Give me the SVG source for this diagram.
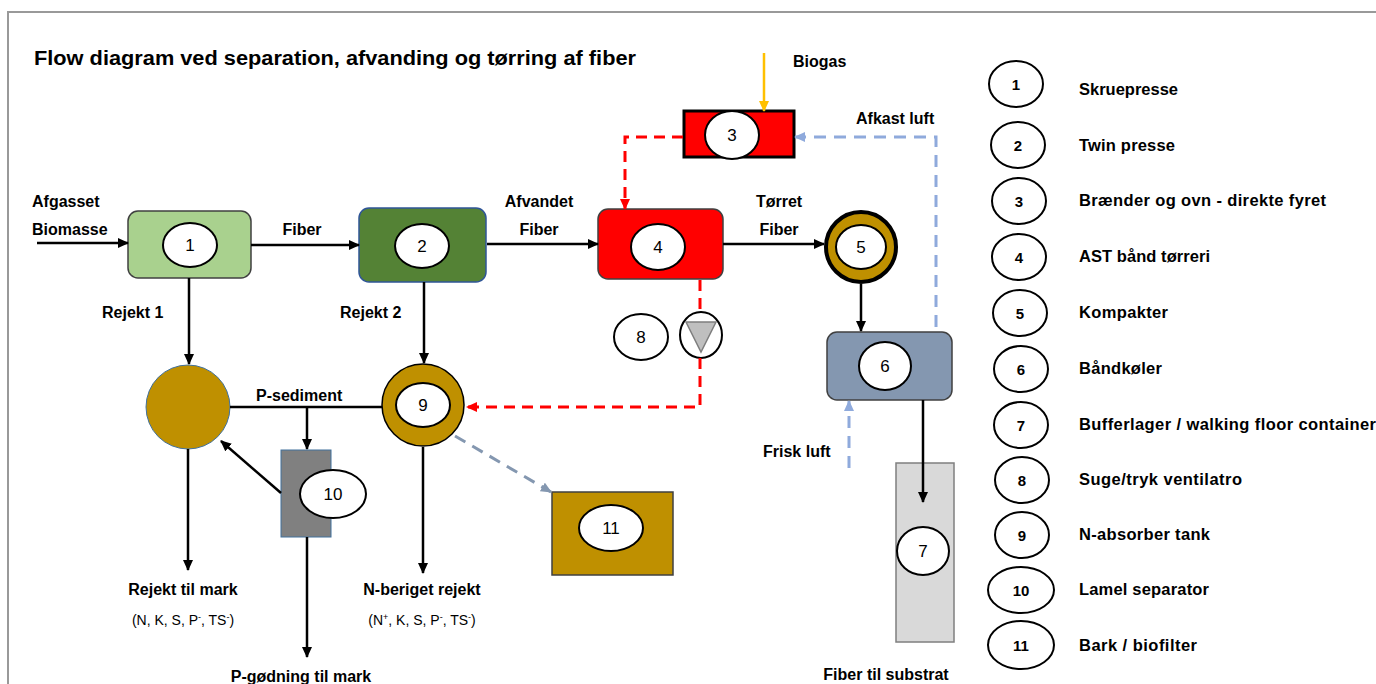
<svg xmlns="http://www.w3.org/2000/svg" width="1376" height="684" viewBox="0 0 1376 684">
<style>
text{font-family:"Liberation Sans",Arial,sans-serif;font-weight:bold;fill:#000}
.lbl{font-size:16px}
.sm{font-size:14px;font-weight:normal}
.num{font-size:17px;font-weight:normal;text-anchor:middle}
.lnum{font-size:15px;font-weight:bold;text-anchor:middle}
.leg{font-size:16.5px}
.mid{text-anchor:middle}
.tag{fill:#fff;stroke:#000;stroke-width:2}
.blk{fill:none;stroke:#000;stroke-width:2.5}
.red{fill:none;stroke:#FF0000;stroke-width:3;stroke-dasharray:11 7}
.blu{fill:none;stroke:#8FAADC;stroke-width:3;stroke-dasharray:12 8}
.gbl{fill:none;stroke:#8497B0;stroke-width:3;stroke-dasharray:12 8}
</style>
<defs>
<marker id="ab" markerUnits="userSpaceOnUse" markerWidth="11" markerHeight="10" refX="10" refY="5" orient="auto"><path d="M0,0 L11,5 L0,10 z" fill="#000"/></marker>
<marker id="ar" markerUnits="userSpaceOnUse" markerWidth="11" markerHeight="10" refX="10" refY="5" orient="auto"><path d="M0,0 L11,5 L0,10 z" fill="#FF0000"/></marker>
<marker id="au" markerUnits="userSpaceOnUse" markerWidth="11" markerHeight="10" refX="10" refY="5" orient="auto"><path d="M0,0 L11,5 L0,10 z" fill="#8FAADC"/></marker>
<marker id="ag" markerUnits="userSpaceOnUse" markerWidth="11" markerHeight="10" refX="10" refY="5" orient="auto"><path d="M0,0 L11,5 L0,10 z" fill="#8497B0"/></marker>
<marker id="ao" markerUnits="userSpaceOnUse" markerWidth="11" markerHeight="10" refX="10" refY="5" orient="auto"><path d="M0,0 L11,5 L0,10 z" fill="#FFC000"/></marker>
</defs>
<rect x="0" y="0" width="1376" height="684" fill="#fff"/>
<rect x="8" y="12" width="1420" height="720" fill="none" stroke="#999" stroke-width="2"/>
<text x="34" y="65" font-size="20" textLength="602" lengthAdjust="spacingAndGlyphs">Flow diagram ved separation, afvanding og tørring af fiber</text>

<g id="node1"><rect x="128" y="211" width="123" height="67" rx="10" fill="#A9D18E" stroke="#404040" stroke-width="1.5"/><ellipse class="tag" cx="190" cy="245" rx="27" ry="22"/><text class="num" x="190" y="251">1</text></g>
<g id="node2"><rect x="359" y="208" width="127" height="74" rx="10" fill="#548235" stroke="#2F5597" stroke-width="1.5"/><ellipse class="tag" cx="422" cy="246" rx="27" ry="22"/><text class="num" x="422" y="252">2</text></g>
<g id="node3"><rect x="684" y="111" width="110" height="46" fill="#FF0000" stroke="#000" stroke-width="3"/><ellipse class="tag" cx="732" cy="135" rx="27" ry="24"/><text class="num" x="732" y="141">3</text></g>
<g id="node4"><rect x="598" y="209" width="125" height="70" rx="10" fill="#FF0000" stroke="#404040" stroke-width="1.5"/><ellipse class="tag" cx="658" cy="247" rx="27" ry="23"/><text class="num" x="658" y="253">4</text></g>
<g id="node5"><circle cx="861" cy="247" r="35" fill="#BF9000" stroke="#000" stroke-width="4"/><ellipse class="tag" cx="861" cy="247" rx="25" ry="22"/><text class="num" x="861" y="253">5</text></g>
<g id="node6"><rect x="827" y="332" width="125" height="68" rx="10" fill="#8497B0" stroke="#404040" stroke-width="1.5"/><ellipse class="tag" cx="885" cy="366" rx="26" ry="24"/><text class="num" x="885" y="372">6</text></g>
<g id="node7"><rect x="896" y="463" width="58" height="179" fill="#D9D9D9" stroke="#7F7F7F" stroke-width="1.5"/><ellipse class="tag" cx="923" cy="551" rx="26" ry="24"/><text class="num" x="923" y="557">7</text></g>
<g id="node8"><ellipse class="tag" cx="641" cy="337" rx="27" ry="23"/><text class="num" x="641" y="343">8</text><ellipse class="tag" cx="701" cy="335" rx="21" ry="23"/><polygon points="686,322 716,322 701,352" fill="#BFBFBF" stroke="#7F7F7F" stroke-width="1.5"/></g>
<g id="node-mix"><circle cx="188" cy="407" r="42" fill="#BF9000" stroke="#41719C" stroke-width="1"/></g>
<g id="node9"><circle cx="423" cy="405" r="41" fill="#BF9000" stroke="#000" stroke-width="1.5"/><ellipse class="tag" cx="423" cy="405" rx="27" ry="22" stroke-width="2.5"/><text class="num" x="423" y="411">9</text></g>
<g id="node10"><rect x="281" y="450" width="50" height="87" fill="#808080" stroke="#41719C" stroke-width="1"/><ellipse class="tag" cx="333" cy="494" rx="33" ry="24"/><text class="num" x="333" y="500">10</text></g>
<g id="node11"><rect x="552" y="492" width="121" height="83" fill="#BF9000" stroke="#404040" stroke-width="1.5"/><ellipse class="tag" cx="611" cy="528" rx="32" ry="23"/><text class="num" x="611" y="534">11</text></g>

<g id="connectors">
<line class="blk" x1="37" y1="243" x2="128" y2="243" marker-end="url(#ab)"/>
<line class="blk" x1="251" y1="245" x2="359" y2="245" marker-end="url(#ab)"/>
<line class="blk" x1="487" y1="244" x2="598" y2="244" marker-end="url(#ab)"/>
<line class="blk" x1="723" y1="244" x2="824" y2="244" marker-end="url(#ab)"/>
<line class="blk" x1="861" y1="284" x2="861" y2="331" marker-end="url(#ab)"/>
<line class="blk" x1="923" y1="400" x2="923" y2="502" marker-end="url(#ab)"/>
<line class="blk" x1="189" y1="278" x2="189" y2="364" marker-end="url(#ab)"/>
<line class="blk" x1="424" y1="282" x2="424" y2="363" marker-end="url(#ab)"/>
<line class="blk" x1="230" y1="407" x2="382" y2="407"/>
<line class="blk" x1="307" y1="407" x2="307" y2="449" marker-end="url(#ab)"/>
<line class="blk" x1="281" y1="493" x2="221" y2="441" marker-end="url(#ab)"/>
<line class="blk" x1="188" y1="449" x2="188" y2="570" marker-end="url(#ab)"/>
<line class="blk" x1="307" y1="537" x2="307" y2="657" marker-end="url(#ab)"/>
<line class="blk" x1="423" y1="447" x2="423" y2="573" marker-end="url(#ab)"/>
<line x1="764" y1="53" x2="764" y2="111" stroke="#FFC000" stroke-width="2.5" marker-end="url(#ao)"/>
<polyline class="red" points="683,137 625,137 625,209" marker-end="url(#ar)"/>
<line class="red" x1="700" y1="280" x2="700" y2="312"/>
<polyline class="red" points="700,358 700,407 467,407" marker-end="url(#ar)"/>
<polyline class="blu" points="936,327 936,137 795,137" marker-end="url(#au)"/>
<line class="blu" x1="849" y1="468" x2="849" y2="401" marker-end="url(#au)"/>
<line class="gbl" x1="455" y1="436" x2="551" y2="492" marker-end="url(#ag)"/>
</g>

<g id="labels">
<text class="lbl" x="32" y="207">Afgasset</text>
<text class="lbl" x="32" y="235">Biomasse</text>
<text class="lbl mid" x="302" y="235">Fiber</text>
<text class="lbl mid" x="539" y="207">Afvandet</text>
<text class="lbl mid" x="539" y="235">Fiber</text>
<text class="lbl mid" x="779" y="207">Tørret</text>
<text class="lbl mid" x="779" y="235">Fiber</text>
<text class="lbl" x="793" y="67">Biogas</text>
<text class="lbl" x="856" y="124">Afkast luft</text>
<text class="lbl" x="102" y="318">Rejekt 1</text>
<text class="lbl" x="340" y="318">Rejekt 2</text>
<text class="lbl" x="256" y="401">P-sediment</text>
<text class="lbl" x="763" y="457">Frisk luft</text>
<text class="lbl mid" x="183" y="595">Rejekt til mark</text>
<text class="sm mid" x="183" y="625">(N, K, S, P<tspan dy="-5" font-size="9">-</tspan><tspan dy="5">, TS</tspan><tspan dy="-5" font-size="9">-</tspan><tspan dy="5">)</tspan></text>
<text class="lbl mid" x="422" y="595">N-beriget rejekt</text>
<text class="sm mid" x="422" y="625">(N<tspan dy="-5" font-size="9">+</tspan><tspan dy="5">, K, S, P</tspan><tspan dy="-5" font-size="9">-</tspan><tspan dy="5">, TS</tspan><tspan dy="-5" font-size="9">-</tspan><tspan dy="5">)</tspan></text>
<text class="lbl mid" x="301" y="682">P-gødning til mark</text>
<text class="lbl mid" x="886" y="680">Fiber til substrat</text>
</g>

<g id="legend">
<g id="leg1"><ellipse class="tag" cx="1016" cy="84" rx="27" ry="23"/><text class="lnum" x="1016" y="90">1</text><text class="leg" x="1079" y="95" textLength="99">Skruepresse</text></g>
<g id="leg2"><ellipse class="tag" cx="1018" cy="145" rx="27" ry="23"/><text class="lnum" x="1018" y="151">2</text><text class="leg" x="1079" y="151" textLength="96">Twin presse</text></g>
<g id="leg3"><ellipse class="tag" cx="1019" cy="201" rx="27" ry="23"/><text class="lnum" x="1019" y="207">3</text><text class="leg" x="1079" y="206" textLength="247">Brænder og ovn - direkte fyret</text></g>
<g id="leg4"><ellipse class="tag" cx="1019" cy="257" rx="27" ry="23"/><text class="lnum" x="1019" y="263">4</text><text class="leg" x="1079" y="262" textLength="131">AST bånd tørreri</text></g>
<g id="leg5"><ellipse class="tag" cx="1020" cy="313" rx="27" ry="23"/><text class="lnum" x="1020" y="319">5</text><text class="leg" x="1079" y="318" textLength="89">Kompakter</text></g>
<g id="leg6"><ellipse class="tag" cx="1021" cy="369" rx="27" ry="23"/><text class="lnum" x="1021" y="375">6</text><text class="leg" x="1079" y="374" textLength="83">Båndkøler</text></g>
<g id="leg7"><ellipse class="tag" cx="1021" cy="425" rx="27" ry="23"/><text class="lnum" x="1021" y="431">7</text><text class="leg" x="1079" y="430" textLength="297">Bufferlager / walking floor container</text></g>
<g id="leg8"><ellipse class="tag" cx="1022" cy="480" rx="27" ry="23"/><text class="lnum" x="1022" y="486">8</text><text class="leg" x="1079" y="485" textLength="163">Suge/tryk ventilatro</text></g>
<g id="leg9"><ellipse class="tag" cx="1022" cy="535" rx="27" ry="23"/><text class="lnum" x="1022" y="541">9</text><text class="leg" x="1079" y="540" textLength="131">N-absorber tank</text></g>
<g id="leg10"><ellipse class="tag" cx="1021" cy="590" rx="33" ry="23"/><text class="lnum" x="1021" y="596">10</text><text class="leg" x="1079" y="595" textLength="130">Lamel separator</text></g>
<g id="leg11"><ellipse class="tag" cx="1021" cy="645" rx="33" ry="24"/><text class="lnum" x="1021" y="651">11</text><text class="leg" x="1079" y="651" textLength="118">Bark / biofilter</text></g>
</g>
</svg>
